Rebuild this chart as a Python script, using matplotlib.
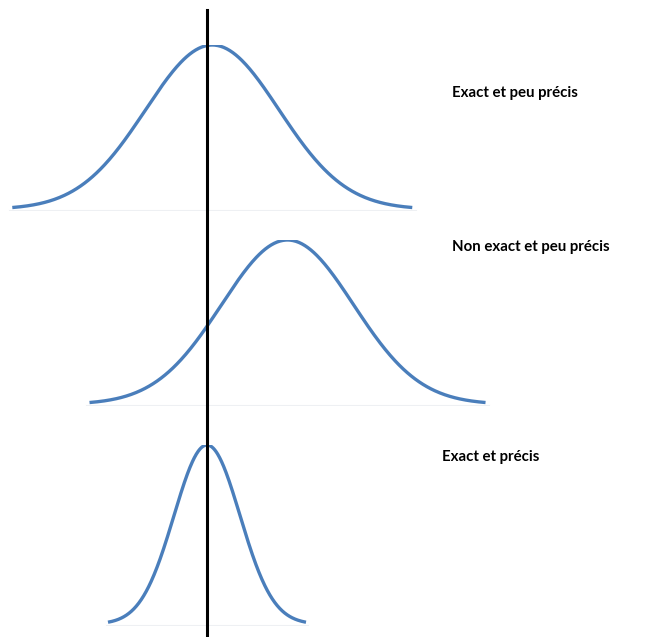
import numpy as np
import matplotlib.pyplot as plt
from matplotlib.lines import Line2D

# -----------------------------
# Données : trois distributions (moyenne, écart-type) autour de la valeur vraie 0
# -----------------------------
labels = ["Exact et peu précis", "Non exact et peu précis", "Exact et précis"]
means = [0.08, 1.22, 0.0]
sigmas = [1.01, 1.0, 0.5]
true_value = 0.0

# position des lignes (pixels depuis le haut) : sommet, base
W, H = 646, 637
row_top = [45, 240, 445]
row_base = [211, 406, 626]
label_xy = [(452, 93), (452, 247), (442, 457)]

unit = 66.0      # pixels par unité x
x_zero = 207.0   # pixel de la valeur vraie
xlim = (-x_zero / unit, (W - x_zero) / unit)

blue = "#4a7ebb"

fig = plt.figure(figsize=(W / 100, H / 100), dpi=100)
fig.patch.set_facecolor("white")

for mu, s, top, base in zip(means, sigmas, row_top, row_base):
    ax = fig.add_axes([0, 1 - base / H, 1, (base - top) / H])
    x = np.linspace(mu - 3 * s, mu + 3 * s, 400)
    y = np.exp(-0.5 * ((x - mu) / s) ** 2)
    ax.plot([mu - 3.05 * s, mu + 3.05 * s], [-0.005, -0.005], color="#eef0f3", lw=0.8, zorder=1)
    ax.plot(x, y, color=blue, lw=2.4, solid_capstyle="butt", zorder=2)
    ax.set_xlim(*xlim)
    ax.set_ylim(-0.01, 1.0)
    ax.axis("off")

for lab, (lx, ly) in zip(labels, label_xy):
    fig.text(lx / W, 1 - ly / H, lab, fontsize=10.8, fontweight="bold",
             family=["Lato", "DejaVu Sans"], ha="left", va="center", color="black")

# ligne verticale : valeur vraie
xv = (x_zero + true_value * unit) / W
fig.add_artist(Line2D([xv, xv], [0, 1 - 10 / H], color="black", lw=2.2, transform=fig.transFigure))

fig.savefig("out.png", dpi=100)
